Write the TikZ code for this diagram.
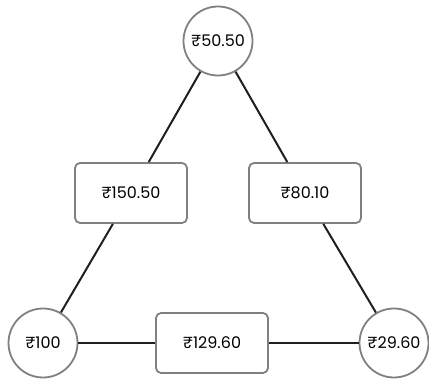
\documentclass[tikz,border=0pt]{standalone}
\usepackage{fontspec}
\setmainfont{Poppins}
\begin{document}
\begin{tikzpicture}[x=1pt, y=-1pt, font=\fontsize{16}{18}\selectfont,
	price/.style={circle, draw=black!50, line width=1.8pt, minimum size=69pt, inner sep=0pt},
	cost/.style={rectangle, rounded corners=5pt, draw=black!50, line width=1.8pt, minimum width=112pt, minimum height=60pt}]
	%frame
	\useasboundingbox (0,0) rectangle (429,382);
	%vertices
	\node[price] (top) at (218,41) {₹50.50};
	\node[price] (left) at (43,343) {₹100};
	\node[price] (right) at (394,343) {₹29.60};
	%edge labels
	\node[cost] (topleft) at (131,193) {₹150.50};
	\node[cost] (topright) at (305,193) {₹80.10};
	\node[cost] (bottom) at (212,343) {₹129.60};
	%edges
	\foreach \a/\b in {top/topleft, topleft/left, top/topright, topright/right, left/bottom, bottom/right}
	\draw[black!88, line width=2pt] (\a) -- (\b);
\end{tikzpicture}
\end{document}
